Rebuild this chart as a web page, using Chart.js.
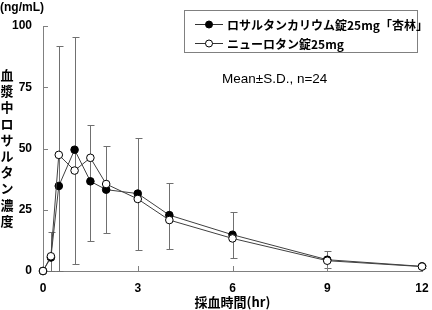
<!DOCTYPE html>
<html>
<head>
<meta charset="utf-8">
<script src="https://cdn.jsdelivr.net/npm/chart.js@4.4.1/dist/chart.umd.min.js"></script>
<style>
  html, body { margin: 0; padding: 0; background: #fff; }
  #wrap { width: 432px; height: 310px; }
</style>
</head>
<body>
<div id="wrap"><canvas id="myChart" width="432" height="310"></canvas></div>
<script>
{
  /* Data */
  const times = [0, 0.25, 0.5, 1, 1.5, 2, 3, 4, 6, 9, 12];
  const kyorinValues = [0, 5.5, 34.7, 49.5, 36.6, 33.2, 31.6, 22.8, 14.8, 4.6, 1.9];
  const newlotanValues = [0, 6.0, 47.4, 41.0, 46.2, 35.5, 29.4, 20.8, 13.3, 4.2, 1.8];
  const errTop = [0, 16.0, 91.8, 95.4, 59.7, 51.1, 54.2, 35.9, 24.2, 8.1, 2.6];
  const errBottom = [0, 0, 0, 2.7, 12.4, 15.6, 8.5, 8.9, 5.2, 1.4, 1.2];
  const xTicks = [0, 3, 6, 9, 12];
  const yTicks = [0, 25, 50, 75, 100];
  const seriesNames = ['ロサルタンカリウム錠25mg「杏林」', 'ニューロタン錠25mg'];
  const yTitleChars = ['血', '漿', '中', 'ロ', 'サ', 'ル', 'タ', 'ン', '濃', '度'];

  const jpFont = '"Noto Sans CJK JP", sans-serif';
  const gray = '#808080';

  /* Error bars, drawn behind the lines */
  const errorBars = {
    id: 'errorBars',
    beforeDatasetsDraw(chart) {
      const ctx = chart.ctx;
      const x = chart.scales.x;
      const y = chart.scales.y;
      ctx.save();
      ctx.strokeStyle = '#707070';
      ctx.lineWidth = 1;
      for (let i = 0; i < times.length; i++) {
        if (errTop[i] === errBottom[i]) continue;
        const px = Math.round(x.getPixelForValue(times[i])) + 0.5;
        const top = Math.round(y.getPixelForValue(errTop[i])) + 0.5;
        const bot = Math.round(y.getPixelForValue(errBottom[i])) + 0.5;
        ctx.beginPath();
        ctx.moveTo(px, top);
        ctx.lineTo(px, bot);
        ctx.moveTo(px - 3, top);
        ctx.lineTo(px + 4, top);
        ctx.moveTo(px - 3, bot);
        ctx.lineTo(px + 4, bot);
        ctx.stroke();
      }
      ctx.restore();
    }
  };

  /* Inward ticks, titles and legend box */
  const decorations = {
    id: 'decorations',
    beforeDatasetsDraw(chart) {
      const ctx = chart.ctx;
      const x = chart.scales.x;
      const y = chart.scales.y;
      const area = chart.chartArea;
      ctx.save();
      ctx.strokeStyle = gray;
      ctx.lineWidth = 1;
      ctx.beginPath();
      for (const v of yTicks) {
        const py = Math.round(y.getPixelForValue(v)) + 0.5;
        ctx.moveTo(area.left, py);
        ctx.lineTo(area.left + 5, py);
      }
      for (const v of xTicks) {
        const px = Math.round(x.getPixelForValue(v)) + 0.5;
        ctx.moveTo(px, area.bottom);
        ctx.lineTo(px, area.bottom - 5);
      }
      ctx.stroke();
      ctx.restore();
    },
    afterDraw(chart) {
      const ctx = chart.ctx;
      ctx.save();
      ctx.fillStyle = '#000';
      ctx.textBaseline = 'middle';

      // unit
      ctx.font = 'bold 12px "Liberation Sans", Arial, sans-serif';
      ctx.textAlign = 'left';
      ctx.fillText('(ng/mL)', 0, 8);

      // vertical y title
      ctx.font = 'bold 13px ' + jpFont;
      ctx.textAlign = 'center';
      yTitleChars.forEach((c, i) => ctx.fillText(c, 7, 75 + i * 16.2));

      // legend box
      ctx.strokeStyle = gray;
      ctx.lineWidth = 1;
      ctx.strokeRect(184.5, 10.5, 233, 42);
      const rows = [24, 43];
      rows.forEach((ry, i) => {
        ctx.strokeStyle = '#333';
        ctx.beginPath();
        ctx.moveTo(195, ry + 0.5);
        ctx.lineTo(223, ry + 0.5);
        ctx.stroke();
        ctx.beginPath();
        ctx.arc(209, ry + 0.5, 3.5, 0, Math.PI * 2);
        ctx.fillStyle = i === 0 ? '#000' : '#fff';
        ctx.fill();
        ctx.strokeStyle = '#000';
        ctx.stroke();
        ctx.fillStyle = '#000';
        ctx.font = 'bold 12px ' + jpFont;
        ctx.textAlign = 'left';
        ctx.fillText(seriesNames[i], 227, ry + 1);
      });

      ctx.font = '13.5px "Liberation Sans", Arial, ' + jpFont;
      ctx.fillText('Mean±S.D., n=24', 222, 79);
      ctx.restore();
    }
  };

  /* Chart */
  function initChart() {
    const ctx = document.getElementById('myChart').getContext('2d');

    // eslint-disable-next-line no-undef
    const myChart = new Chart(ctx, {
      type: 'line',
      data: {
        datasets: [{
          label: seriesNames[0],
          data: times.map((t, i) => ({ x: t, y: kyorinValues[i] })),
          borderColor: '#404040',
          borderWidth: 1,
          pointRadius: 3.8,
          pointBackgroundColor: '#000',
          pointBorderColor: '#000',
          pointBorderWidth: 1,
          clip: false,
          order: 2,
        },
        {
          label: seriesNames[1],
          data: times.map((t, i) => ({ x: t, y: newlotanValues[i] })),
          borderColor: '#404040',
          borderWidth: 1,
          pointRadius: 3.8,
          pointBackgroundColor: '#fff',
          pointBorderColor: '#000',
          pointBorderWidth: 1,
          clip: false,
          order: 1,
        }]
      },
      options: {
        responsive: false,
        animation: false,
        events: [],
        layout: { padding: { left: 0, top: 26, right: 10, bottom: 0 } },
        plugins: {
          legend: { display: false },
          tooltip: { enabled: false },
        },
        scales: {
          x: {
            type: 'linear',
            min: 0,
            max: 12,
            afterBuildTicks(scale) { scale.ticks = xTicks.map(v => ({ value: v })); },
            afterFit(scale) {
              scale.height = 39;
              scale.paddingLeft = 0;
              scale.paddingRight = 0;
            },
            grid: { display: true, drawOnChartArea: false, drawTicks: false, color: gray },
            border: { color: gray },
            ticks: { font: { family: '"Liberation Sans", Arial', size: 12, weight: 'bold' }, color: '#000', padding: 10, maxRotation: 0 },
            title: {
              display: true,
              text: '採血時間(hr)',
              font: { family: jpFont, size: 13, weight: 'bold' },
              color: '#000',
              padding: { top: 0, bottom: 0 },
            },
          },
          y: {
            min: 0,
            max: 100,
            afterBuildTicks(scale) { scale.ticks = yTicks.map(v => ({ value: v })); },
            afterFit(scale) { scale.width = 43; },
            grid: { display: true, drawOnChartArea: false, drawTicks: false, color: gray },
            border: { color: gray },
            ticks: { font: { family: '"Liberation Sans", Arial', size: 12, weight: 'bold' }, color: '#000', padding: 11 },
          }
        }
      },
      plugins: [errorBars, decorations],
    });
  }

  initChart();
}
</script>
</body>
</html>
